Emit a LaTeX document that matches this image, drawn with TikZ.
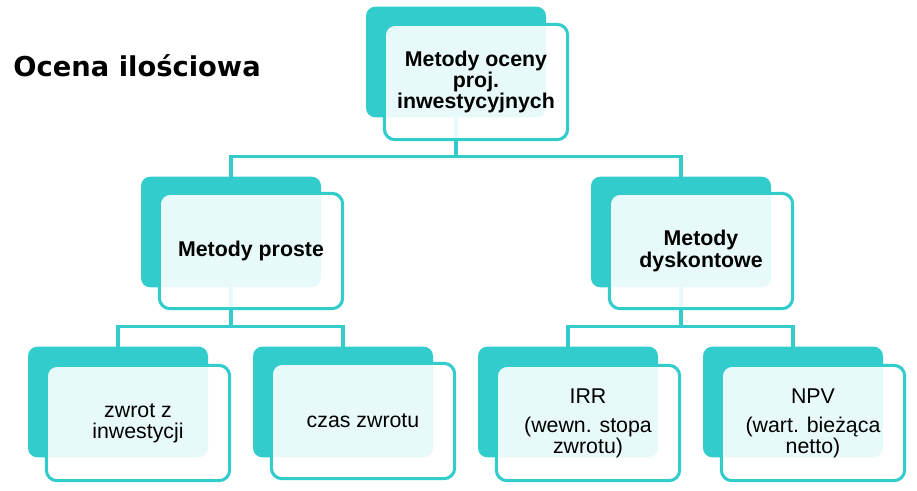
\documentclass[tikz,border=0pt]{standalone}
\usepackage{fontspec}
\setmainfont{Liberation Sans}
\newfontfamily\titlefont{DejaVu Sans}
\usepackage{tikz}
\usetikzlibrary{positioning,calc,backgrounds}
\definecolor{turq}{RGB}{51,204,204}
\tikzset{
  backbox/.style={rectangle,rounded corners=7pt,fill=turq,
    minimum width=135pt,minimum height=83pt,inner sep=0pt},
  frontbox/.style={rectangle,rounded corners=8pt,draw=turq,line width=2.3pt,
    fill=white,fill opacity=0.89,text opacity=1,
    minimum width=137.5pt,minimum height=86.5pt,align=center,
    font=\fontsize{16}{15.8}\selectfont},
  link/.style={draw=turq,line width=2.4pt},
}

\begin{document}
\begin{tikzpicture}[
x=0.75pt,y=-0.75pt,
every node/.style={outer sep=0pt}
]
\useasboundingbox (0,0) rectangle (917,490);

\node[anchor=west,font=\titlefont\bfseries\fontsize{20.5}{22}\selectfont] (title) at (9,66) {Ocena ilościowa};

\node[backbox] (top) at (456,62) {};
\node[backbox] (prost) at (231,232) {};
\node[backbox] (dysk) at (681,232) {};
\node[backbox] (zwrot) at (118,402) {};
\node[backbox] (czas) at (343,402) {};
\node[backbox] (irr) at (568,402) {};
\node[backbox] (npv) at (793,402) {};

\node[frontbox] (topf) at ([shift={(20,20)}]top.center) {\bfseries Metody oceny\\\bfseries proj.\\\bfseries inwestycyjnych};
\node[frontbox] (prostf) at ([shift={(20,19)}]prost.center) {\bfseries Metody proste};
\node[frontbox] (dyskf) at ([shift={(20,19)}]dysk.center) {\bfseries Metody\\\bfseries dyskontowe};
\node[frontbox] (zwrotf) at ([shift={(20,21)}]zwrot.center) {zwrot z\\inwestycji};
\node[frontbox] (czasf) at ([shift={(20,19)}]czas.center) {czas zwrotu};
\node[frontbox] (irrf) at ([shift={(20,21)}]irr.center) {IRR\\[6pt](wewn. stopa\\zwrotu)};
\node[frontbox] (npvf) at ([shift={(20,21)}]npv.center) {NPV\\[6pt](wart. bieżąca\\netto)};

\begin{scope}[on background layer]
\draw[link] (top.south) -- ++(0,39) coordinate (j1) -| (prost.north);
\draw[link] (j1) -| (dysk.north);
\draw[link] (prost.south) -- ++(0,39) coordinate (j2) -| (zwrot.north);
\draw[link] (j2) -| (czas.north);
\draw[link] (dysk.south) -- ++(0,39) coordinate (j3) -| (irr.north);
\draw[link] (j3) -| (npv.north);
\end{scope}
\end{tikzpicture}
\end{document}
